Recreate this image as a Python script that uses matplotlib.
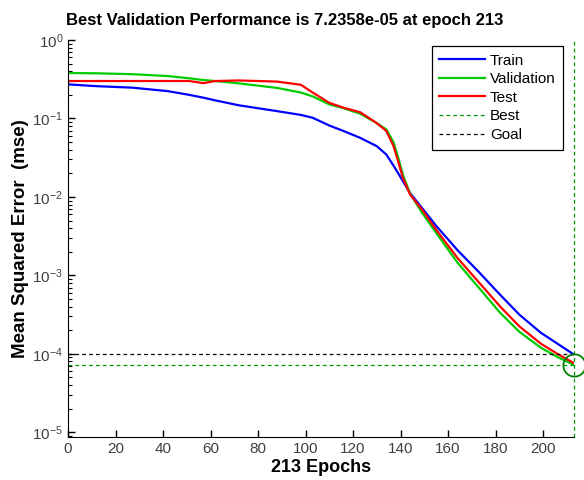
import numpy as np
import matplotlib.pyplot as plt
from matplotlib.ticker import LogLocator, NullFormatter

plt.rcParams['font.family'] = ['Liberation Sans', 'DejaVu Sans']
plt.rcParams['mathtext.default'] = 'regular'

epochs = [0, 12, 27, 42, 51, 57, 62, 72, 88, 98, 103, 110, 116, 123, 130, 134,
          137, 139, 141, 144, 149, 155, 164, 173, 182, 190, 199, 206, 213]

train = [0.272, 0.258, 0.247, 0.223, 0.200, 0.184, 0.170, 0.147, 0.124, 0.111,
         0.102, 0.0813, 0.0692, 0.0566, 0.0443, 0.0347, 0.0251, 0.0200, 0.0158,
         0.0112, 0.00724, 0.00427, 0.00209, 0.00110, 0.000562, 0.000316,
         0.000186, 0.000135, 0.0000977]

validation = [0.380, 0.376, 0.367, 0.347, 0.325, 0.309, 0.300, 0.280, 0.245,
              0.214, 0.191, 0.151, 0.135, 0.115, 0.0871, 0.0724, 0.0501, 0.0316,
              0.0191, 0.0110, 0.00631, 0.00347, 0.00145, 0.000692, 0.000331,
              0.000191, 0.000120, 0.0000912, 0.000072358]

test = [0.300, 0.300, 0.300, 0.300, 0.300, 0.282, 0.300, 0.305, 0.295, 0.269,
        0.214, 0.158, 0.137, 0.120, 0.0871, 0.0692, 0.0447, 0.0282, 0.0174,
        0.0107, 0.00692, 0.00380, 0.00166, 0.000813, 0.000398, 0.000224,
        0.000135, 0.000100, 0.0000759]

best_epoch = 213
best_perf = 7.2358e-05
goal = 1e-4

fig = plt.figure(figsize=(5.84, 4.8), dpi=100)
ax = fig.add_axes([68/584, 1-437/480, 506/584, 397/480])

ax.plot(epochs, train, color=(0, 0, 1), lw=1.6, label='Train')
ax.plot(epochs, validation, color=(0, 0.8, 0), lw=1.6, label='Validation')
ax.plot(epochs, test, color=(1, 0, 0), lw=1.6, label='Test')
ax.axhline(best_perf, color=(0, 0.6, 0), lw=0.9, ls=(0, (3, 2.5)), label='Best')
ax.axvline(best_epoch, color=(0, 0.6, 0), lw=0.9, ls=(0, (3, 2.5)), clip_on=False)
ax.axhline(goal, color='black', lw=0.9, ls=(0, (3, 2.5)), label='Goal')
ax.plot([best_epoch], [best_perf], 'o', mfc='none', mec=(0, 0.5, 0), ms=16,
        mew=1.3, clip_on=False)

ax.set_yscale('log')
ax.set_xlim(0, 213)
ax.set_ylim(10**-5.06, 1)
ax.set_xticks(np.arange(0, 201, 20))
ax.yaxis.set_major_locator(LogLocator(base=10, numticks=10))
ax.yaxis.set_minor_locator(LogLocator(base=10, subs=np.arange(2, 10), numticks=10))
ax.yaxis.set_minor_formatter(NullFormatter())

ax.spines['top'].set_visible(False)
ax.spines['right'].set_visible(False)
ax.tick_params(direction='in', length=5, width=1, labelsize=11,
               labelcolor='#404040')
ax.tick_params(which='minor', direction='in', length=3, width=0.8)

fig.text(285/584, 1-21/480, 'Best Validation Performance is 7.2358e-05 at epoch 213',
         fontsize=12, fontweight='bold', ha='center', va='center')
ax.set_xlabel('213 Epochs', fontsize=13, fontweight='bold', labelpad=2)
ax.set_ylabel('Mean Squared Error  (mse)', fontsize=13.5, fontweight='bold',
              labelpad=2)

leg = ax.legend(loc='upper left', bbox_to_anchor=(0.719, 0.985), fontsize=11,
                fancybox=False, framealpha=1, edgecolor='black',
                handlelength=3.0, handletextpad=0.3, labelspacing=0.3,
                borderpad=0.5, borderaxespad=0)
leg.get_frame().set_linewidth(0.9)

plt.savefig('out.png', dpi=100)
